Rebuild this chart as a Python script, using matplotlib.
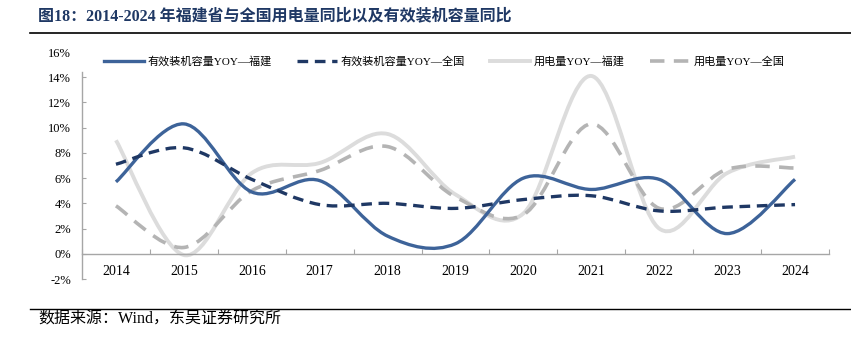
import numpy as np
import matplotlib.pyplot as plt
from matplotlib.path import Path
from matplotlib.patches import PathPatch
from matplotlib.lines import Line2D

# 2014-2024 同比增速 (%)
years = [str(y) for y in range(2014, 2025)]
cap_fj = [5.7, 10.3, 4.9, 5.8, 1.4, 0.8, 6.0, 5.1, 5.9, 1.6, 5.9]    # 有效装机容量YOY—福建
cap_cn = [7.1, 8.4, 5.9, 3.9, 4.0, 3.6, 4.3, 4.6, 3.4, 3.7, 3.9]     # 有效装机容量YOY—全国
elec_fj = [9.0, -0.1, 6.4, 7.2, 9.5, 4.7, 3.2, 14.1, 2.0, 6.4, 7.7]  # 用电量YOY—福建
elec_cn = [3.8, 0.5, 5.0, 6.6, 8.5, 4.5, 3.1, 10.3, 3.6, 6.7, 6.8]   # 用电量YOY—全国

labels = ['有效装机容量YOY—福建', '有效装机容量YOY—全国', '用电量YOY—福建', '用电量YOY—全国']

serif_cjk = ['Liberation Serif', 'Noto Sans CJK SC']
plt.rcParams['font.family'] = serif_cjk


def smooth_path(x, y):
    # Excel-style smoothed line: cubic bezier segments through every point
    n = len(x)
    verts = [(x[0], y[0])]
    codes = [Path.MOVETO]
    for i in range(n - 1):
        a = max(i - 1, 0)
        b = min(i + 2, n - 1)
        c1 = (x[i] + (x[i + 1] - x[a]) / 6, y[i] + (y[i + 1] - y[a]) / 6)
        c2 = (x[i + 1] - (x[b] - x[i]) / 6, y[i + 1] - (y[b] - y[i]) / 6)
        verts += [c1, c2, (x[i + 1], y[i + 1])]
        codes += [Path.CURVE4] * 3
    return Path(verts, codes)


fig = plt.figure(figsize=(8.51, 3.41), dpi=100)
ax = fig.add_axes([82 / 851, 1 - 279 / 341, (829 - 82) / 851, (279 - 52) / 341])

x = np.arange(len(years))
styles = [
    (cap_fj, '#3D6399', 2.4, '-', 4),
    (cap_cn, '#1F3864', 2.4, (0, (3.2, 2.0)), 5),
    (elec_fj, '#DCDCDC', 2.8, '-', 2),
    (elec_cn, '#B4B4B4', 2.6, (0, (4.0, 2.6)), 3),
]
handles = []
for (vals, color, lw, ls, z), lab in zip(styles, labels):
    patch = PathPatch(smooth_path(x, np.array(vals, dtype=float)), fill=False,
                      edgecolor=color, lw=lw, linestyle=ls, capstyle='butt', zorder=z)
    ax.add_patch(patch)
    handles.append(Line2D([], [], color=color, lw=lw, linestyle=ls, label=lab))

ax.set_xlim(-0.5, len(years) - 0.5)
ax.set_ylim(-2, 16)

yt = np.arange(-2, 17, 2)
ax.set_yticks(yt)
ax.set_yticklabels([f'{v}%' for v in yt], fontsize=9)

# category labels on minor ticks, tick marks between categories
ax.set_xticks(np.arange(-0.5, len(years), 1))
ax.set_xticklabels([])
ax.set_xticks(x, minor=True)
ax.set_xticklabels(years, minor=True, fontsize=9)
ax.tick_params(axis='x', which='major', direction='in', length=3.5, color='#A6A6A6')
ax.tick_params(axis='x', which='minor', length=0, pad=8)
ax.tick_params(axis='y', direction='in', length=3, color='#A6A6A6', pad=8)
ax.yaxis.get_major_ticks()[-1].tick1line.set_visible(False)

for s in ['top', 'right']:
    ax.spines[s].set_visible(False)
ax.spines['bottom'].set_position(('data', 0))
ax.spines['left'].set_bounds(-2, 14.4)
for s in ['left', 'bottom']:
    ax.spines[s].set_color('#A6A6A6')
    ax.spines[s].set_linewidth(1.0)

fig.legend(handles=handles, loc='center', bbox_to_anchor=(0.522, 0.821), ncol=4,
           frameon=False, fontsize=8, handlelength=3.6, handletextpad=0.3,
           columnspacing=2.3)

# title, rules and source note
fig.text(38 / 851, 1 - 16 / 341, '图18：2014-2024 年福建省与全国用电量同比以及有效装机容量同比',
         fontsize=11.5, fontweight='bold', color='#1F3864', va='center', ha='left')
fig.add_artist(Line2D([30 / 851, 1], [1 - 33 / 341] * 2, color='black', lw=1.2))
fig.add_artist(Line2D([30 / 851, 1], [1 - 309 / 341] * 2, color='black', lw=1.0))
fig.text(38 / 851, 1 - 320 / 341, '数据来源：Wind，东吴证券研究所', fontsize=11.5,
         color='black', va='center', ha='left')

fig.savefig('out.png', dpi=100)
